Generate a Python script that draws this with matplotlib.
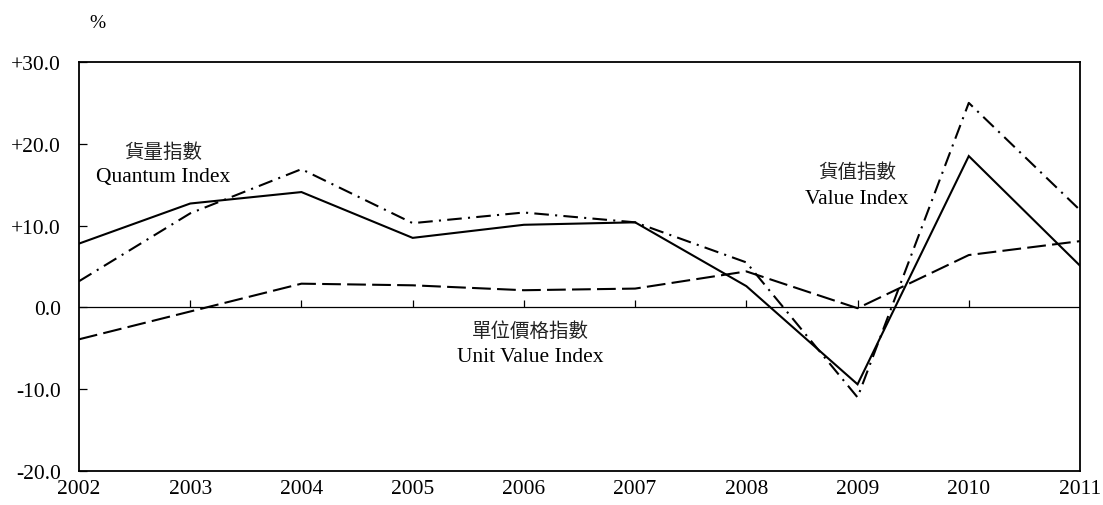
import matplotlib
matplotlib.use("Agg")
import matplotlib.pyplot as plt

# year-on-year change, %
years = [2002, 2003, 2004, 2005, 2006, 2007, 2008, 2009, 2010, 2011]
quantum_index = [7.8, 12.7, 14.1, 8.5, 10.1, 10.4, 2.6, -9.4, 18.5, 5.1]
value_index = [3.2, 11.5, 16.9, 10.3, 11.6, 10.4, 5.5, -11.0, 25.0, 11.9]
unit_value_index = [-3.9, -0.5, 2.9, 2.7, 2.1, 2.3, 4.4, -0.1, 6.4, 8.1]

y_ticks = [-20, -10, 0, 10, 20, 30]
y_labels = ["-20.0", "-10.0", "0.0", "+10.0", "+20.0", "+30.0"]

serif = ["Liberation Serif", "DejaVu Serif"]
cjk = ["Noto Sans CJK TC", "DejaVu Sans"]

plt.rcParams["font.family"] = serif

fig = plt.figure(figsize=(11.03, 5.06), dpi=100)
ax = fig.add_axes([79 / 1103, 34 / 506, 1001 / 1103, 409 / 506])

lw = 1.5
ax.plot(years, quantum_index, color="black", lw=lw, solid_joinstyle="miter")
ax.plot(years, value_index, color="black", lw=lw, dashes=(7, 3, 1, 3))
ax.plot(years, unit_value_index, color="black", lw=lw, dashes=(9, 3))

ax.axhline(0, color="black", lw=0.9)
# small tick marks sitting on the zero line
ax.vlines(years[1:-1], 0, 0.85, color="black", lw=0.9)

ax.set_xlim(years[0], years[-1])
ax.set_ylim(-20, 30)
ax.set_xticks(years)
ax.set_xticklabels([str(y) for y in years])
ax.set_yticks(y_ticks)
ax.set_yticklabels(y_labels)
ax.tick_params(axis="x", length=0, pad=6, labelsize=15.5)
ax.tick_params(axis="y", direction="in", length=6, width=0.9, pad=13, labelsize=15.5)
for s in ax.spines.values():
    s.set_linewidth(1.3)

fig.text(97 / 1103, 1 - 23 / 506, "%", fontsize=14, ha="center", va="center")

def label(x, y_cn, y_en, cn, en):
    ax.annotate(cn, xy=(x / 1103, 1 - y_cn / 506), xycoords="figure fraction",
                ha="center", va="center", fontsize=14, family=cjk,
                fontweight="light", color="#222222")
    ax.annotate(en, xy=(x / 1103, 1 - y_en / 506), xycoords="figure fraction",
                ha="center", va="center", fontsize=15.5)

label(163, 152, 178, "貨量指數", "Quantum Index")
label(857, 173, 200, "貨值指數", "Value Index")
label(530, 331, 357, "單位價格指數", "Unit Value Index")

fig.savefig("out.png", dpi=100)
